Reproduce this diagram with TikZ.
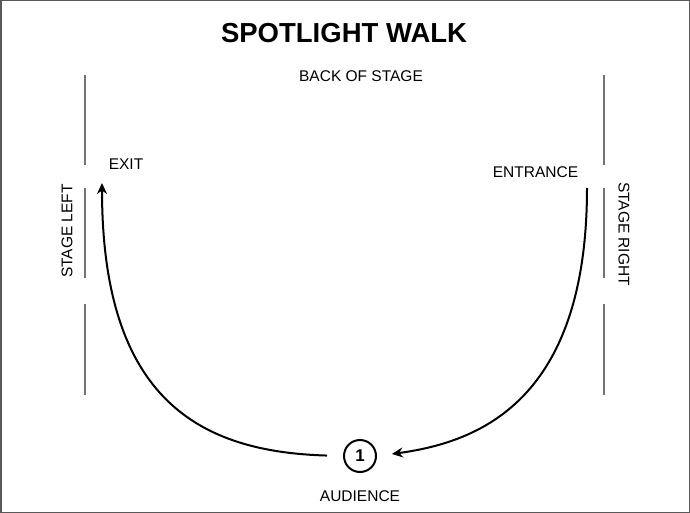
\documentclass[tikz,border=0pt]{standalone}
\usepackage{fontspec}
\setmainfont{Liberation Sans}
\usepackage{tikz}
\usetikzlibrary{positioning, arrows.meta}

\begin{document}
\begin{tikzpicture}
    [
        x=1pt, y=-1pt,
        stage_text/.style={font=\fontsize{15.5}{18}\selectfont, inner sep=0pt},
        wing_line/.style={line width=2pt, color=black!55},
        walk_line/.style={line width=2pt, color=black, -{Stealth[length=11pt, width=10pt, inset=3.5pt]}},
        seat_node/.style={circle, draw=black, very thick, line width=2pt, minimum size=32pt, inner sep=0pt, font=\fontsize{17}{20}\selectfont\bfseries},
    ]
        \useasboundingbox (0,0) rectangle (690,513);
        \draw[line width=3pt, color=black!65] (0,0) rectangle (690,513);
        % title and stage texts
        \node[font=\fontsize{27.5}{32}\selectfont\bfseries, inner sep=0pt] (title) at (344,33) {SPOTLIGHT WALK};
        \node[stage_text] (back) at (361,76) {BACK OF STAGE};
        \node[stage_text] (exit) at (126,164) {EXIT};
        \node[stage_text] (entrance) at (535.5,172) {ENTRANCE};
        \node[stage_text, rotate=90] (left) at (67,231) {STAGE LEFT};
        \node[stage_text, rotate=-90] (right) at (624,234) {STAGE RIGHT};
        \node[stage_text] (audience) at (360,496) {AUDIENCE};
        % wings
        \foreach \wx in {85, 604} {
            \draw[wing_line] (\wx,75) -- (\wx,165);
            \draw[wing_line] (\wx,188) -- (\wx,278);
            \draw[wing_line] (\wx,304) -- (\wx,395);
        }
        % walk
        \node[seat_node] (seat) at (360,456) {1};
        \coordinate (walk_in) at (587,188);
        \coordinate (walk_out) at (102,183);
        \draw[walk_line, shorten >=15pt] (walk_in) .. controls (587,400) and (480,442) .. (seat.east);
        \draw[walk_line, shorten <=16pt] (seat.west) .. controls (200,452) and (102,400) .. (walk_out);
    \end{tikzpicture}
\end{document}
